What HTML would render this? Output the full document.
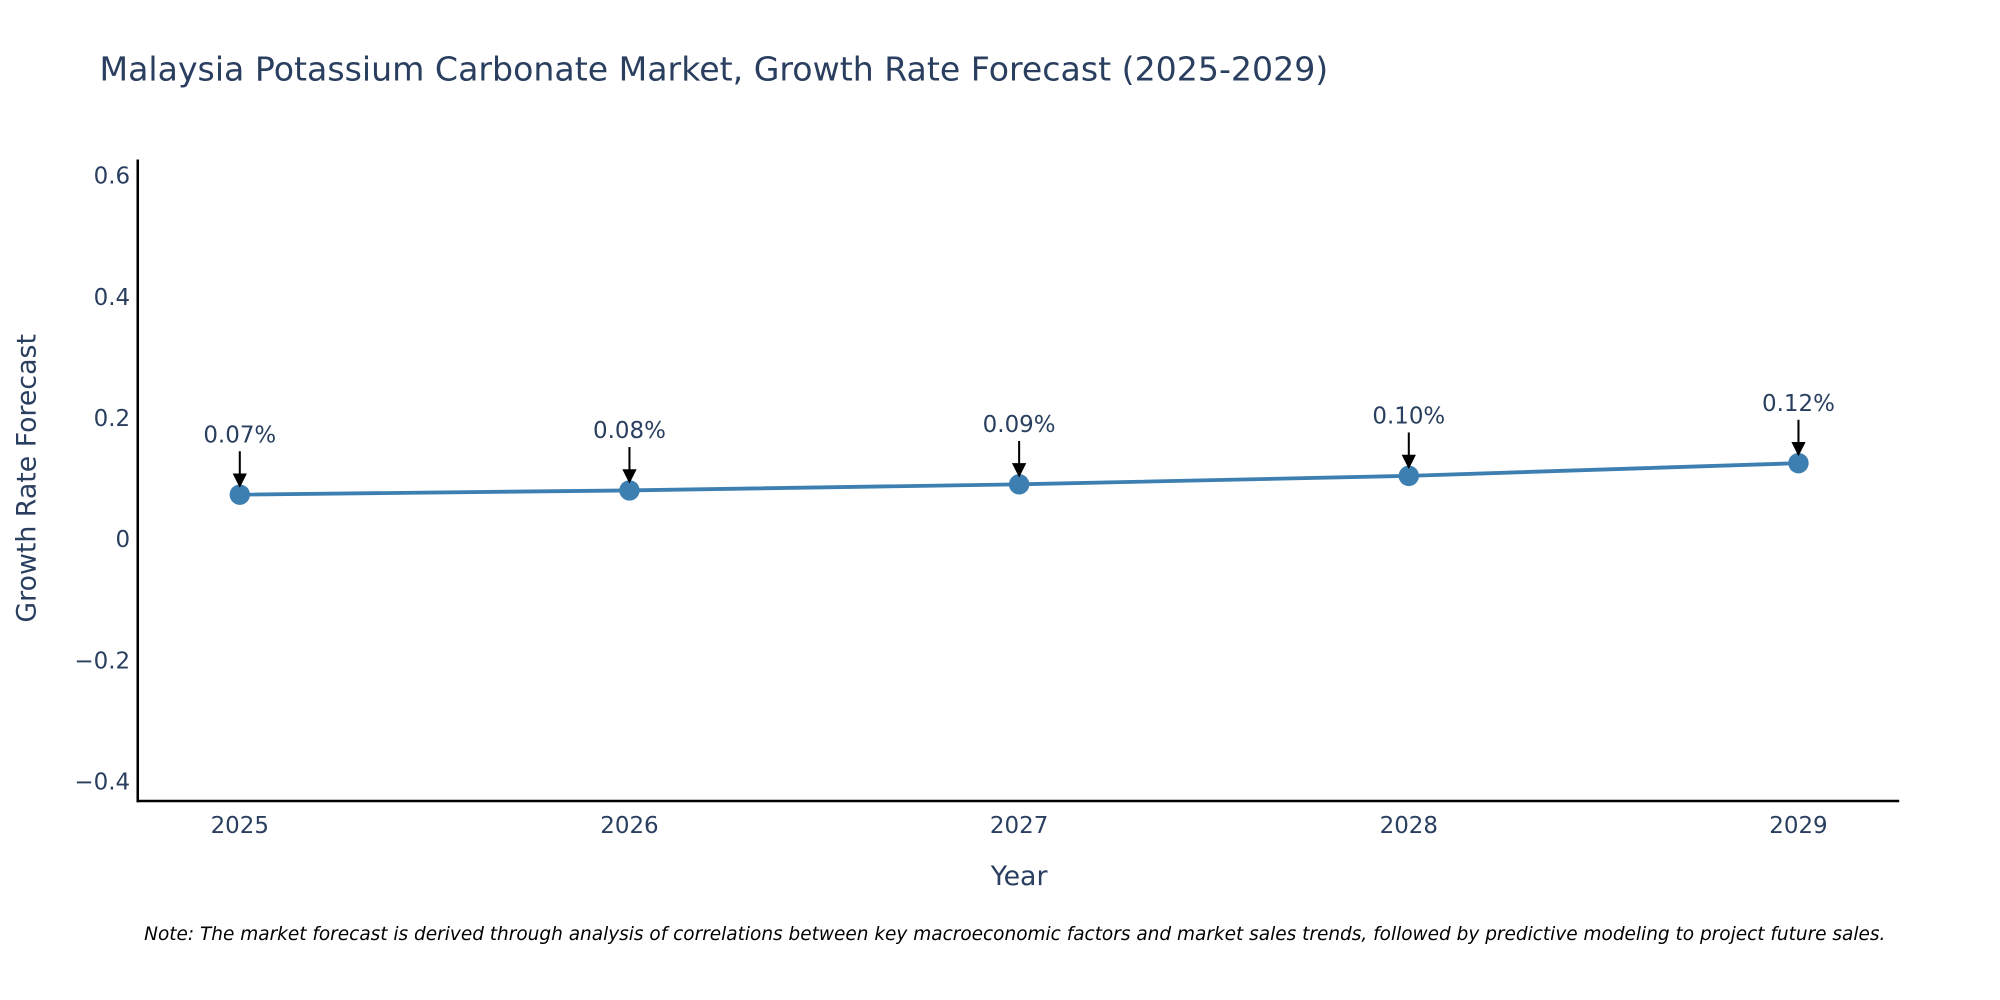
<!DOCTYPE html>
<html><head><meta charset="utf-8"><style>
html,body{margin:0;padding:0;background:#fff;overflow:hidden;}
svg{display:block;font-family:"DejaVu Sans","Liberation Sans",sans-serif;}
</style></head><body>
<svg width="2000" height="1000" viewBox="0 0 1568 784" xmlns="http://www.w3.org/2000/svg">
<text x="78" y="63" font-size="26" fill="#2a3f5f">Malaysia Potassium Carbonate Market, Growth Rate Forecast (2025-2029)</text>
<g id="yticks"></g><g id="xticks"></g>
<line x1="108" y1="125" x2="108" y2="629" stroke="#000" stroke-width="2"/>
<line x1="107" y1="628" x2="1489" y2="628" stroke="#000" stroke-width="2"/>
<g id="series"></g>
<text transform="translate(28,375) rotate(-90)" text-anchor="middle" font-size="21" fill="#2a3f5f">Growth Rate Forecast</text>
<text x="799" y="694" text-anchor="middle" font-size="21" fill="#2a3f5f">Year</text>
<text x="113" y="737" font-size="14.5" font-style="italic" fill="#000">Note: The market forecast is derived through analysis of correlations between key macroeconomic factors and market sales trends, followed by predictive modeling to project future sales.</text>
<defs><marker id="ah" markerWidth="7" markerHeight="7" refX="6" refY="3.5" orient="auto" markerUnits="strokeWidth"><path d="M0,0 L7,3.5 L0,7 Z" fill="#000"/></marker></defs>
</svg>
<script>
const years=["2025","2026","2027","2028","2029"];
const values=[0.072,0.079,0.089,0.103,0.124];
const labels=["0.07%","0.08%","0.09%","0.10%","0.12%"];
const yTicks=[0.6,0.4,0.2,0,-0.2,-0.4];
const yTickLabels=["0.6","0.4","0.2","0","\u22120.2","\u22120.4"];
const NS="http://www.w3.org/2000/svg";
const xs=i=>188+i*(1410-188)/(years.length-1);
const ys=v=>422-v*475;
function mk(t,a,p){const e=document.createElementNS(NS,t);for(const k in a)e.setAttribute(k,a[k]);p.appendChild(e);return e;}
const yt=document.getElementById('yticks');
yTicks.forEach((v,i)=>{const t=mk('text',{x:102,y:ys(v)+7,'text-anchor':'end','font-size':18,fill:'#2a3f5f'},yt);t.textContent=yTickLabels[i];

});
const xt=document.getElementById('xticks');
years.forEach((y,i)=>{const t=mk('text',{x:xs(i),y:653,'text-anchor':'middle','font-size':18,fill:'#2a3f5f'},xt);t.textContent=y;

});
const s=document.getElementById('series');
const line=mk('polyline',{points:values.map((v,i)=>xs(i)+','+ys(v)).join(' '),fill:'none',stroke:'#3d7fb1','stroke-width':3},s);


values.forEach((v,i)=>{
const c=mk('circle',{cx:xs(i),cy:ys(v),r:8,fill:'#3d7fb1'},s);


const a=mk('line',{x1:xs(i),y1:ys(v)-34,x2:xs(i),y2:ys(v)-7,stroke:'#000','stroke-width':1.6,'marker-end':'url(#ah)'},s);


const t=mk('text',{x:xs(i),y:ys(v)-41,'text-anchor':'middle','font-size':18,fill:'#2a3f5f'},s);t.textContent=labels[i];


});
</script>
</body></html>
